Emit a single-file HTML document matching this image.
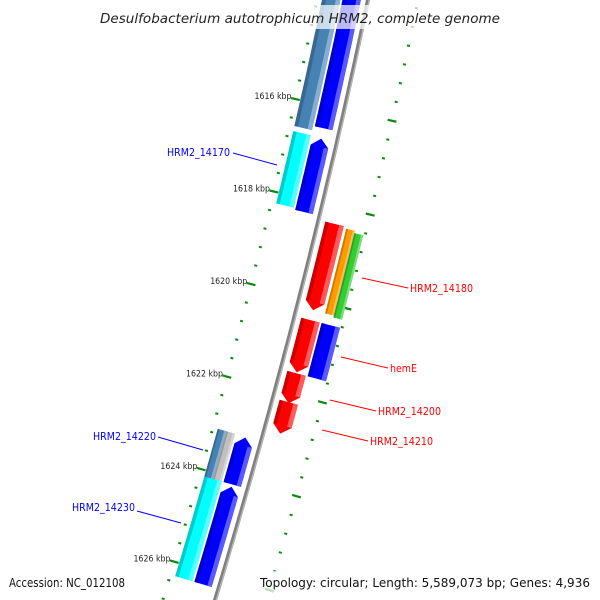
<!DOCTYPE html>
<html><head><meta charset="utf-8"><style>
html,body{margin:0;padding:0;background:#fff;}
svg{display:block;font-family:"DejaVu Sans","Liberation Sans",sans-serif;}
</style></head><body>
<svg id="map" width="600" height="600" viewBox="0 0 600 600" xmlns="http://www.w3.org/2000/svg">
<g id="ticks"></g>
<g id="genes"></g>
<g id="backbone"></g>
<g id="labels" font-size="10.5">
 <line x1="233" y1="153" x2="277" y2="165" stroke="#0000ff" stroke-width="1"/>
 <text x="167" y="156" textLength="63" lengthAdjust="spacingAndGlyphs" fill="#0000ff">HRM2_14170</text>
 <line x1="362" y1="278" x2="408" y2="288" stroke="#ff0000" stroke-width="1"/>
 <text x="410" y="292" textLength="63" lengthAdjust="spacingAndGlyphs" fill="#ff0000">HRM2_14180</text>
 <line x1="341" y1="357" x2="388" y2="368" stroke="#ff0000" stroke-width="1"/>
 <text x="390" y="372" textLength="27" lengthAdjust="spacingAndGlyphs" fill="#ff0000">hemE</text>
 <line x1="330" y1="400" x2="376" y2="411" stroke="#ff0000" stroke-width="1"/>
 <text x="378" y="415" textLength="63" lengthAdjust="spacingAndGlyphs" fill="#ff0000">HRM2_14200</text>
 <line x1="322" y1="430" x2="368" y2="441" stroke="#ff0000" stroke-width="1"/>
 <text x="370" y="445" textLength="63" lengthAdjust="spacingAndGlyphs" fill="#ff0000">HRM2_14210</text>
 <line x1="158" y1="437" x2="203" y2="450" stroke="#0000ff" stroke-width="1"/>
 <text x="93" y="440" textLength="63" lengthAdjust="spacingAndGlyphs" fill="#0000ff">HRM2_14220</text>
 <line x1="137" y1="511" x2="181" y2="523" stroke="#0000ff" stroke-width="1"/>
 <text x="72" y="511" textLength="63" lengthAdjust="spacingAndGlyphs" fill="#0000ff">HRM2_14230</text>
</g>
<rect x="94" y="5" width="412" height="24" fill="#fff" fill-opacity="0.72"/>
<text x="100" y="23" textLength="400" lengthAdjust="spacingAndGlyphs" font-size="13" font-style="italic" fill="#222">Desulfobacterium autotrophicum HRM2, complete genome</text>
<rect x="4" y="571" width="126" height="21" fill="#fff" fill-opacity="0.72"/>
<text x="9" y="587" textLength="116" lengthAdjust="spacingAndGlyphs" font-size="12.5" fill="#111">Accession: NC_012108</text>
<rect x="256" y="571" width="340" height="21" fill="#fff" fill-opacity="0.72"/>
<text x="260" y="587" textLength="330" lengthAdjust="spacingAndGlyphs" font-size="12.5" fill="#111">Topology: circular; Length: 5,589,073 bp; Genes: 4,936</text>
</svg>
<script>
// gene data (kbp)
const geneNames  = ["g-top-outer","g-top-inner","HRM2_14170","g-14170-pair","HRM2_14180","g-orange","g-green","hemE-red","hemE","HRM2_14200","HRM2_14210","HRM2_14220","HRM2_14220-b","g-14220-pair","HRM2_14230","g-14230-pair"];
const geneStarts = [1612.6,1612.6,1616.67,1616.69,1618.36,1618.40,1618.45,1620.42,1620.42,1621.56,1622.18,1623.10,1623.10,1623.12,1624.13,1624.18];
const geneEnds   = [1616.56,1616.47,1618.23,1618.27,1620.21,1620.21,1620.25,1621.54,1621.56,1622.20,1622.85,1624.18,1624.18,1624.13,1626.28,1626.28];
const geneStrand = [0,0,0,-1,1,0,0,1,0,1,1,0,0,-1,0,-1];
const geneColors = ["#4682b4","#0000ff","#00ffff","#0000ff","#ff0000","#ff9900","#33cc33","#ff0000","#0000ff","#ff0000","#ff0000","#4682b4","#c0c0c0","#0000ff","#00ffff","#0000ff"];
const geneInner  = [-45,-25,-45,-25,7,29,38,7,28,7,7,-45,-36,-25,-45,-25];
const geneOuter  = [-27,-7,-27,-7,26,38,47,26,47,26,26,-36,-27,-7,-27,-7];
// tick data (kbp)
const tickLabels = [1616,1618,1620,1622,1624,1626];
const tickStart = 1612.4, tickEnd = 1627.0, minorStep = 0.4;

const NS="http://www.w3.org/2000/svg";
const Y0=110, PXK=46.6, ARROW=8/600;
function kToT(k){return (Y0+(k-1616)*PXK)/600;}
function bx(t){return (1-t)*(1-t)*368+2*t*(1-t)*305.7+t*t*215;}
function pt(t,d){
  const dx=-124.6*(1-t)-181.4*t, dy=600;
  const L=Math.hypot(dx,dy); const nx=dy/L, ny=-dx/L;
  return [bx(t)+d*nx, 600*t+d*ny];
}
function mk(tag,attrs,parent){const e=document.createElementNS(NS,tag);for(const k in attrs)e.setAttribute(k,attrs[k]);parent.appendChild(e);return e;}
function shade(hex,f){const n=parseInt(hex.slice(1),16);let r=n>>16,g=(n>>8)&255,b=n&255;
  if(f>0){r+= (255-r)*f;g+=(255-g)*f;b+=(255-b)*f;}else{r*=1+f;g*=1+f;b*=1+f;}
  return "rgb("+Math.round(r)+","+Math.round(g)+","+Math.round(b)+")";}
function bandPts(t0,t1,d0,d1,strand){
  const pts=[];
  let s0=t0,s1=t1;
  if(strand===1) s1=Math.max(t0,t1-ARROW);
  if(strand===-1) s0=Math.min(t1,t0+ARROW);
  const N=30;
  if(strand===-1) pts.push(pt(t0,(d0+d1)/2));
  for(let i=0;i<=N;i++){pts.push(pt(s0+(s1-s0)*i/N,d0));}
  if(strand===1) pts.push(pt(t1,(d0+d1)/2));
  for(let i=N;i>=0;i--){pts.push(pt(s0+(s1-s0)*i/N,d1));}
  return pts.map(p=>p[0].toFixed(1)+","+p[1].toFixed(1)).join(" ");
}
const G=document.getElementById("genes");
for(let i=0;i<geneStarts.length;i++){
  const t0=kToT(geneStarts[i]), t1=kToT(geneEnds[i]);
  const d0=geneInner[i], d1=geneOuter[i], w=d1-d0, c=geneColors[i], s=geneStrand[i];
  const b0 = s===-1 ? t0+ARROW : t0, b1 = s===1 ? t1-ARROW : t1;
  const g=mk("g",{},G);
  
  
  mk("polygon",{points:bandPts(t0,t1,d0,d1,s),fill:c},g);
  mk("polygon",{points:bandPts(b0,b1,d0,d0+w*0.2,0),fill:shade(c,-0.2)},g);
  mk("polygon",{points:bandPts(b0,b1,d1-w*0.25,d1,0),fill:shade(c,0.35)},g);
}
// backbone
const B=document.getElementById("backbone");
let p1=[],p2=[];
for(let i=0;i<=60;i++){const t=-0.02+1.04*i/60;const a=pt(t,0),b=pt(t,1.2);p1.push(a[0].toFixed(1)+","+a[1].toFixed(1));p2.push(b[0].toFixed(1)+","+b[1].toFixed(1));}
const bl=mk("polyline",{points:p1.join(" "),fill:"none",stroke:"#808080","stroke-width":4},B);


mk("polyline",{points:p2.join(" "),fill:"none",stroke:"#b8b8b8","stroke-width":1.2},B);
// ticks
const T=document.getElementById("ticks");
const nSteps=Math.round((tickEnd-tickStart)/minorStep);
for(let i=0;i<=nSteps;i++){
  const k=tickStart+i*minorStep;
  const major=tickLabels.some(v=>Math.abs(v-k)<0.01);
  const t=kToT(k);
  for(const d of [-50,49]){
    const half=major?4.5:1.5;
    const a=pt(t,d-half),b=pt(t,d+half);
    const ln=mk("line",{x1:a[0],y1:a[1],x2:b[0],y2:b[1],stroke:"#0a8a0a","stroke-width":major?2.2:2},T);
    
    
  }
  if(major){
    const p=pt(t,-54);
    const tx=mk("text",{x:(p[0]-37).toFixed(1),y:(p[1]+1).toFixed(1),"font-size":9,fill:"#222",textLength:37,lengthAdjust:"spacingAndGlyphs"},T);
    tx.textContent=Math.round(k)+" kbp";
    
    
  }
}
</script>
</body></html>
